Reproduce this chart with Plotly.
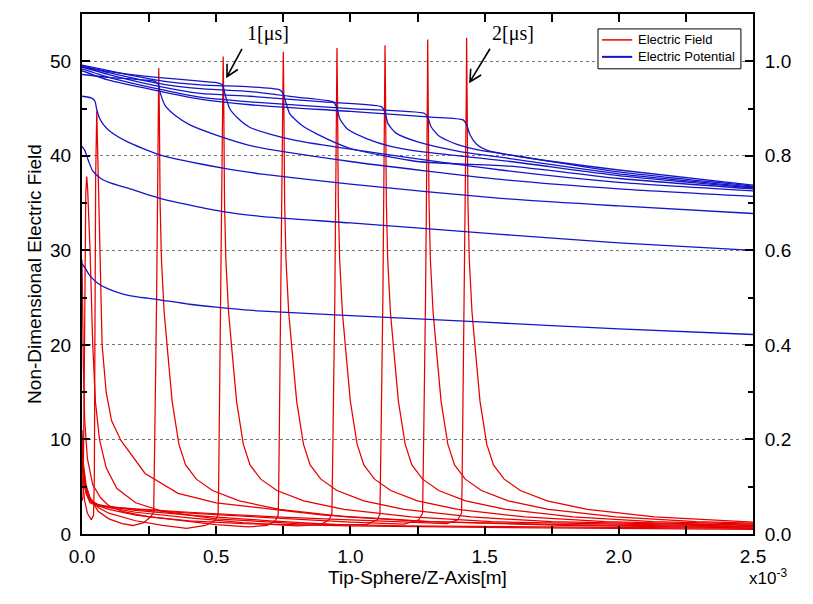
import plotly.graph_objects as go

# ---------------- data (x in units of 1e-3 m) ----------------
# Electric field curves (left axis, non-dimensional)
ef_x = [
    [0, 0.002, 0.005, 0.01, 0.02, 0.04, 0.07, 0.1, 0.15, 0.25, 0.4, 0.6, 1.0, 1.5, 2.0, 2.5],
    [0, 0.004, 0.007, 0.01, 0.014, 0.0175, 0.021, 0.03, 0.04, 0.05, 0.065, 0.09, 0.13, 0.2, 0.3, 0.5, 0.8, 1.2, 1.8, 2.5],
    [0, 0.01, 0.02, 0.035, 0.043, 0.046, 0.048, 0.051, 0.055, 0.059, 0.065, 0.075, 0.09, 0.11, 0.145, 0.235, 0.358, 0.5, 0.656, 0.9, 1.3, 1.8, 2.5],
    [0, 0.005, 0.015, 0.03, 0.06, 0.1, 0.15, 0.19, 0.23, 0.255, 0.267, 0.269, 0.271, 0.278, 0.282, 0.285, 0.286,
     0.288, 0.291, 0.296, 0.306, 0.320, 0.336, 0.361, 0.386, 0.426, 0.486, 0.586, 0.736, 0.986, 1.286, 1.8, 2.5],
    [0, 0.005, 0.015, 0.03, 0.06, 0.1, 0.2, 0.3, 0.39, 0.46, 0.495, 0.507, 0.509, 0.511, 0.518, 0.522, 0.525, 0.526,
     0.528, 0.531, 0.536, 0.546, 0.56, 0.576, 0.601, 0.626, 0.666, 0.726, 0.826, 0.976, 1.226, 1.526, 2.0, 2.5],
    [0, 0.005, 0.015, 0.03, 0.06, 0.1, 0.2, 0.35, 0.5, 0.62, 0.69, 0.72, 0.731, 0.733, 0.735, 0.742, 0.746, 0.749, 0.75,
     0.752, 0.755, 0.76, 0.77, 0.784, 0.8, 0.825, 0.85, 0.89, 0.95, 1.05, 1.2, 1.45, 1.75, 2.1, 2.5],
    [0, 0.005, 0.015, 0.03, 0.06, 0.1, 0.2, 0.4, 0.6, 0.8, 0.89, 0.92, 0.931, 0.933, 0.935, 0.942, 0.946, 0.949, 0.95,
     0.952, 0.955, 0.96, 0.97, 0.984, 1.0, 1.025, 1.05, 1.09, 1.15, 1.25, 1.4, 1.65, 1.95, 2.25, 2.5],
    [0, 0.005, 0.015, 0.03, 0.06, 0.1, 0.2, 0.4, 0.7, 0.95, 1.06, 1.1, 1.11, 1.112, 1.114, 1.121, 1.125, 1.128, 1.129,
     1.131, 1.134, 1.139, 1.149, 1.163, 1.179, 1.204, 1.229, 1.269, 1.329, 1.429, 1.579, 1.829, 2.129, 2.5],
    [0, 0.005, 0.015, 0.03, 0.06, 0.1, 0.2, 0.4, 0.7, 1.0, 1.2, 1.255, 1.269, 1.271, 1.273, 1.28, 1.284, 1.287, 1.288,
     1.29, 1.293, 1.298, 1.308, 1.322, 1.338, 1.363, 1.388, 1.428, 1.488, 1.588, 1.738, 1.988, 2.288, 2.5],
    [0, 0.005, 0.015, 0.03, 0.06, 0.1, 0.2, 0.4, 0.7, 1.0, 1.25, 1.36, 1.4, 1.414, 1.416, 1.418, 1.425, 1.429, 1.432, 1.433,
     1.435, 1.438, 1.443, 1.453, 1.467, 1.483, 1.508, 1.533, 1.573, 1.633, 1.733, 1.883, 2.133, 2.5],
]
ef_y = [
    [29, 24, 18, 12, 8, 5.2, 3.8, 3.0, 2.4, 1.8, 1.4, 1.1, 0.85, 0.7, 0.6, 0.5],
    [3.5, 4, 12, 28, 36, 37.8, 36.5, 30, 20, 14, 10, 7, 4.8, 3.3, 2.4, 1.6, 1.1, 0.85, 0.7, 0.6],
    [6, 3.5, 2.2, 1.5, 2, 6, 20, 38, 44.7, 40, 30, 20, 15, 12, 9.9, 6.4, 4.3, 3.3, 2.8, 2.0, 1.3, 0.9, 0.65],
    [11, 7.5, 5.2, 3.8, 2.4, 1.6, 1.1, 0.9, 1.2, 1.8, 2.3, 5, 10, 25, 35, 47, 49.3,
     45, 35, 29, 23.5, 19, 14, 9.5, 7.3, 5.8, 4.6, 3.5, 2.6, 1.8, 1.3, 1.0, 0.75],
    [10, 7, 5, 3.8, 2.8, 2.2, 1.4, 0.9, 0.6, 0.9, 1.4, 2.0, 5, 10, 25, 35, 47, 50.5,
     46, 35, 29, 23.5, 19, 14, 9.5, 7.3, 5.8, 4.6, 3.5, 2.6, 1.8, 1.3, 1.05, 0.8],
    [9.5, 6.8, 4.8, 3.7, 3.0, 2.6, 2.0, 1.5, 1.0, 0.75, 0.9, 1.4, 2.0, 5, 10, 25, 35, 47, 51.0,
     46, 35, 29, 23.5, 19, 14, 9.5, 7.3, 5.8, 4.6, 3.5, 2.6, 1.8, 1.3, 1.1, 0.9],
    [9, 6.5, 4.7, 3.6, 3.1, 2.8, 2.3, 1.7, 1.2, 0.85, 1.0, 1.5, 2.1, 5, 10, 25, 35, 47, 51.4,
     46, 35, 29, 23.5, 19, 14, 9.5, 7.3, 5.8, 4.6, 3.5, 2.6, 1.8, 1.3, 1.1, 0.95],
    [8.5, 6.2, 4.5, 3.5, 3.1, 2.9, 2.5, 2.0, 1.4, 1.0, 1.0, 1.5, 2.1, 5, 10, 25, 35, 47, 51.7,
     46, 35, 29, 23.5, 19, 14, 9.5, 7.3, 5.8, 4.6, 3.5, 2.6, 1.8, 1.3, 1.05],
    [8, 6, 4.4, 3.4, 3.0, 2.9, 2.6, 2.2, 1.7, 1.25, 1.05, 1.5, 2.2, 5, 10, 25, 35, 47, 52.3,
     46, 35, 29, 23.5, 19, 14, 9.5, 7.3, 5.8, 4.6, 3.5, 2.6, 1.8, 1.3, 1.15],
    [7.5, 5.8, 4.3, 3.3, 2.95, 2.85, 2.65, 2.3, 1.85, 1.5, 1.2, 1.1, 1.5, 2.2, 5, 10, 25, 35, 47, 52.5,
     46, 35, 29, 23.5, 19, 14, 9.5, 7.3, 5.8, 4.6, 3.5, 2.6, 1.8, 1.25],
]

# Electric potential curves (right axis, non-dimensional)
ep_x = [
    [0, 0.01, 0.03, 0.06, 0.1, 0.15, 0.2, 0.283, 0.4, 0.5, 0.656, 1.0, 1.5, 2.0, 2.5],
    [0, 0.01, 0.025, 0.04, 0.07, 0.1, 0.168, 0.29, 0.525, 0.663, 1.0, 1.56, 2.0, 2.5],
    [0, 0.036, 0.048, 0.055, 0.065, 0.08, 0.104, 0.168, 0.29, 0.525, 0.663, 1.0, 1.56, 2.0, 2.5],
    [0, 0.1, 0.2, 0.27, 0.283, 0.292, 0.31, 0.35, 0.4, 0.5, 0.64, 1.0, 1.56, 2.0, 2.5],
    [0, 0.1, 0.278, 0.44, 0.51, 0.523, 0.533, 0.55, 0.58, 0.626, 0.7, 0.8, 1.0, 1.56, 2.0, 2.5],
    [0, 0.1, 0.278, 0.44, 0.626, 0.735, 0.749, 0.76, 0.775, 0.82, 0.876, 0.998, 1.248, 1.595, 2.0, 2.5],
    [0, 0.1, 0.278, 0.44, 0.626, 0.8, 0.935, 0.948, 0.961, 0.99, 1.062, 1.15, 1.248, 1.595, 2.0, 2.5],
    [0, 0.1, 0.278, 0.44, 0.626, 0.9, 1.115, 1.128, 1.14, 1.17, 1.248, 1.4, 1.595, 2.0, 2.5],
    [0, 0.1, 0.278, 0.44, 0.626, 1.0, 1.275, 1.288, 1.3, 1.33, 1.397, 1.48, 1.595, 2.0, 2.5],
    [0, 0.1, 0.278, 0.44, 0.626, 1.0, 1.3, 1.42, 1.433, 1.446, 1.471, 1.508, 1.632, 2.0, 2.5],
]
ep_y = [
    [0.572, 0.564, 0.546, 0.530, 0.518, 0.508, 0.502, 0.496, 0.486, 0.480, 0.472, 0.462, 0.448, 0.434, 0.422],
    [0.820, 0.812, 0.788, 0.768, 0.752, 0.744, 0.732, 0.710, 0.682, 0.672, 0.658, 0.634, 0.616, 0.600],
    [0.926, 0.922, 0.916, 0.898, 0.880, 0.866, 0.852, 0.830, 0.802, 0.774, 0.762, 0.740, 0.710, 0.694, 0.678],
    [0.972, 0.966, 0.962, 0.958, 0.952, 0.932, 0.906, 0.884, 0.866, 0.844, 0.820, 0.788, 0.750, 0.730, 0.714],
    [0.988, 0.978, 0.966, 0.958, 0.954, 0.950, 0.930, 0.900, 0.880, 0.860, 0.846, 0.832, 0.814, 0.770, 0.744, 0.726],
    [0.992, 0.980, 0.960, 0.950, 0.946, 0.940, 0.932, 0.912, 0.888, 0.864, 0.846, 0.816, 0.788, 0.778, 0.752, 0.730],
    [0.990, 0.976, 0.954, 0.942, 0.936, 0.924, 0.914, 0.904, 0.878, 0.856, 0.836, 0.820, 0.810, 0.788, 0.758, 0.732],
    [0.988, 0.972, 0.948, 0.932, 0.926, 0.914, 0.904, 0.894, 0.868, 0.848, 0.830, 0.810, 0.794, 0.762, 0.734],
    [0.984, 0.966, 0.942, 0.924, 0.914, 0.900, 0.890, 0.882, 0.862, 0.842, 0.824, 0.812, 0.802, 0.766, 0.736],
    [0.980, 0.960, 0.938, 0.920, 0.908, 0.894, 0.882, 0.876, 0.866, 0.844, 0.824, 0.812, 0.798, 0.770, 0.738],
]

x_ticks = [0.0, 0.5, 1.0, 1.5, 2.0, 2.5]
x_ticktext = ["0.0", "0.5", "1.0", "1.5", "2.0", "2.5"]
y_ticks = [0, 10, 20, 30, 40, 50]
y2_ticks = [0.0, 0.2, 0.4, 0.6, 0.8, 1.0]

labels = ["Electric Field", "Electric Potential"]
time_labels = ["1[μs]", "2[μs]"]

RED = "#e60000"
BLUE = "#1414c8"

fig = go.Figure()

for xs, ys in zip(ef_x, ef_y):
    fig.add_trace(go.Scatter(x=xs, y=ys, mode="lines", line=dict(color=RED, width=1.25),
                             name=labels[0], showlegend=False, yaxis="y"))
for xs, ys in zip(ep_x, ep_y):
    fig.add_trace(go.Scatter(x=xs, y=ys, mode="lines",
                             line=dict(color=BLUE, width=1.3, shape="spline", smoothing=0.6),
                             name=labels[1], showlegend=False, yaxis="y2"))

FONT = "Liberation Sans, Arial"
axis_font = dict(family=FONT, size=19, color="black")

fig.update_layout(
    width=813, height=604,
    margin=dict(l=74, r=68, t=4, b=78),
    paper_bgcolor="white", plot_bgcolor="white",
    font=dict(family=FONT, color="black"),
    showlegend=False,
    xaxis=dict(range=[0, 2.5], tickvals=x_ticks, ticktext=x_ticktext,
               showline=True, linecolor="black", linewidth=2, mirror="allticks",
               ticks="inside", ticklen=8, tickwidth=1.5, tickcolor="black",
               minor=dict(ticks="inside", ticklen=5, dtick=0.25, tickwidth=1.5, tickcolor="black"),
               showgrid=False, zeroline=False, tickfont=axis_font, ticklabelstandoff=4,
               title=dict(text="Tip-Sphere/Z-Axis[m]", font=axis_font, standoff=4)),
    yaxis=dict(range=[0, 55], tickvals=y_ticks,
               showline=True, linecolor="black", linewidth=2,
               ticks="inside", ticklen=8, tickwidth=1.5, tickcolor="black",
               minor=dict(ticks="inside", ticklen=5, dtick=5, tickwidth=1.5, tickcolor="black"),
               showgrid=True, gridcolor="#777777", griddash="dot", gridwidth=1,
               zeroline=False, tickfont=axis_font, ticklabelstandoff=5,
               title=dict(text="Non-Dimensional Electric Field", font=axis_font, standoff=3)),
    yaxis2=dict(range=[0, 1.1], tickvals=y2_ticks, tickformat=".1f", overlaying="y", side="right",
                showline=True, linecolor="black", linewidth=2,
                ticks="inside", ticklen=8, tickwidth=1.5, tickcolor="black",
                minor=dict(ticks="inside", ticklen=5, dtick=0.1, tickwidth=1.5, tickcolor="black"),
                showgrid=False, zeroline=False, tickfont=axis_font, ticklabelstandoff=6),
)

# hand-drawn legend box (paper coordinates)
fig.add_shape(type="rect", xref="paper", yref="paper", x0=0.769, x1=0.982, y0=0.8946, y1=0.9713,
              line=dict(color="black", width=1), fillcolor="white", layer="above")
fig.add_shape(type="line", xref="paper", yref="paper", x0=0.775, x1=0.820, y0=0.9502, y1=0.9502,
              line=dict(color=RED, width=1.5), layer="above")
fig.add_shape(type="line", xref="paper", yref="paper", x0=0.775, x1=0.820, y0=0.9176, y1=0.9176,
              line=dict(color=BLUE, width=2), layer="above")
fig.add_annotation(x=0.8256, y=0.9502, xref="paper", yref="paper", xanchor="left", yanchor="middle",
                   text=labels[0], showarrow=False, font=dict(family=FONT, size=13, color="black"))
fig.add_annotation(x=0.8256, y=0.9176, xref="paper", yref="paper", xanchor="left", yanchor="middle",
                   text=labels[1], showarrow=False, font=dict(family=FONT, size=13, color="black"))

# time labels with open-V arrows
serif = dict(family="Liberation Serif, Times New Roman", size=20, color="black")
fig.add_annotation(x=0.693, y=52.9, xref="x", yref="y", text=time_labels[0], showarrow=False, font=serif)
fig.add_annotation(x=1.606, y=52.9, xref="x", yref="y", text=time_labels[1], showarrow=False, font=serif)
arrow_line = dict(color="black", width=1.6)
fig.add_shape(type="path", xref="x", yref="y", line=arrow_line, layer="above",
              path="M 0.5961,51.32 L 0.5402,48.37 M 0.5805,49.13 L 0.5402,48.37 L 0.5404,49.74")
fig.add_shape(type="path", xref="x", yref="y", line=arrow_line, layer="above",
              path="M 1.5201,51.32 L 1.4456,47.84 M 1.4873,48.55 L 1.4456,47.84 L 1.4482,49.21")

fig.add_annotation(x=1.0, y=-0.058, xref="paper", yref="paper", xanchor="left", yanchor="top",
                   xshift=-6, text="x10<sup>-3</sup>", showarrow=False,
                   font=dict(family=FONT, size=17, color="black"))

fig.write_html("out.html")
